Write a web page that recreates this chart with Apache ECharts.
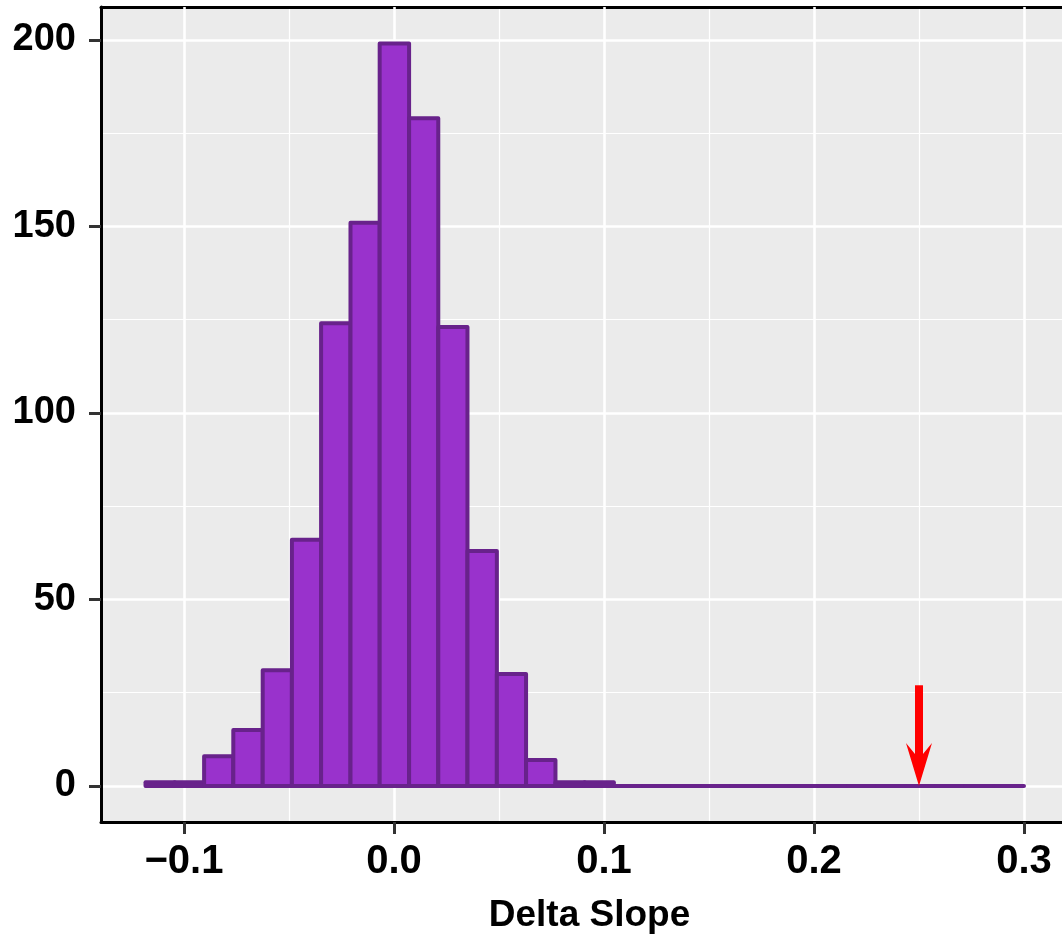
<!DOCTYPE html>
<html>
<head>
<meta charset="utf-8">
<script src="https://cdn.jsdelivr.net/npm/echarts@6/dist/echarts.min.js"></script>
<style>
html,body{margin:0;padding:0;background:#fff;}
#chart{width:1062px;height:942px;}
</style>
</head>
<body>
<div id="chart"></div>
<script>
// Histogram bins (left / right edges) and counts
const binLeft  = [-0.1183,-0.1044,-0.0904,-0.0765,-0.0625,-0.0486,-0.0347,-0.0207,-0.0068,0.0072,0.0211,0.0350,0.0490,0.0629,0.0769,0.0908,0.1047,0.1187,0.1326,0.1466,0.1605,0.1744,0.1884,0.2023,0.2163,0.2302,0.2441,0.2581,0.2720,0.2860];
const binRight = [-0.1044,-0.0904,-0.0765,-0.0625,-0.0486,-0.0347,-0.0207,-0.0068,0.0072,0.0211,0.0350,0.0490,0.0629,0.0769,0.0908,0.1047,0.1187,0.1326,0.1466,0.1605,0.1744,0.1884,0.2023,0.2163,0.2302,0.2441,0.2581,0.2720,0.2860,0.3000];
const counts   = [1,1,8,15,31,66,124,151,199,179,123,63,30,7,1,1,0,0,0,0,0,0,0,0,0,0,0,0,0,0];
// Arrow marking the observed value
const arrowX = 0.25;
const arrowTop = 27;
const arrowBottom = 0;
// Axis ticks and gridlines
const xTicks = [-0.1, 0.0, 0.1, 0.2, 0.3];
const xMinor = [-0.05, 0.05, 0.15, 0.25];
const yTicks = [0, 50, 100, 150, 200];
const yMinor = [25, 75, 125, 175];
const xTitle = 'Delta Slope';

const X_MIN = -0.1395, X_MAX = 0.3181, Y_MIN = -9.65, Y_MAX = 208.8;

const chart = echarts.init(document.getElementById('chart'), null, {renderer: 'canvas'});

const barData = binLeft.map((l, i) => [l, binRight[i], counts[i]]);
const FONT = "'Liberation Sans', Arial, Helvetica, sans-serif";

const option = {
  animation: false,
  grid: {
    left: 101, right: 0, top: 7, bottom: 120,
    show: true, backgroundColor: '#EBEBEB', borderWidth: 0
  },
  xAxis: [
    {
      type: 'value', min: X_MIN, max: X_MAX, position: 'bottom',
      name: xTitle, nameLocation: 'middle', nameGap: 75,
      nameTextStyle: {fontFamily: FONT, fontWeight: 'bold', fontSize: 37, color: '#000', padding: [0, 0, 0, 16]},
      axisLine: {show: true, onZero: false, lineStyle: {color: '#000', width: 3}},
      axisTick: {show: true, length: 12, customValues: xTicks, lineStyle: {color: '#333333', width: 3}},
      axisLabel: {
        show: true, margin: 20, customValues: xTicks,
        fontFamily: FONT, fontWeight: 'bold', fontSize: 40, color: '#000',
        formatter: v => v.toFixed(1).replace('-', '\u2212')
      },
      splitLine: {show: true, lineStyle: {color: '#FFFFFF', width: 2.6}},
      z: 2
    },
    {
      type: 'value', min: X_MIN, max: X_MAX, position: 'top',
      axisLine: {show: true, onZero: false, lineStyle: {color: '#000', width: 3}},
      axisTick: {show: false, customValues: xMinor},
      axisLabel: {show: false, customValues: xMinor},
      splitLine: {show: true, lineStyle: {color: '#FFFFFF', width: 1.2}},
      z: 1
    }
  ],
  yAxis: [
    {
      type: 'value', min: Y_MIN, max: Y_MAX,
      axisLine: {show: true, onZero: false, lineStyle: {color: '#000', width: 3}},
      axisTick: {show: true, length: 12, customValues: yTicks, lineStyle: {color: '#333333', width: 3}},
      axisLabel: {
        show: true, margin: 25, customValues: yTicks,
        fontFamily: FONT, fontWeight: 'bold', fontSize: 38, color: '#000',
        formatter: v => String(Math.round(v))
      },
      splitLine: {show: true, lineStyle: {color: '#FFFFFF', width: 2.6}},
      z: 2
    },
    {
      type: 'value', min: Y_MIN, max: Y_MAX,
      axisLine: {show: false},
      axisTick: {show: false, customValues: yMinor},
      axisLabel: {show: false, customValues: yMinor},
      splitLine: {show: true, lineStyle: {color: '#FFFFFF', width: 1.2}},
      z: 1
    }
  ],
  series: [
    {
      type: 'custom', xAxisIndex: 0, yAxisIndex: 0, z: 5,
      data: barData,
      encode: {x: [0, 1], y: 2},
      renderItem: (params, api) => {
        const p0 = api.coord([api.value(0), api.value(2)]);
        const p1 = api.coord([api.value(1), 0]);
        return {
          type: 'rect',
          shape: {x: p0[0], y: p0[1], width: p1[0] - p0[0], height: p1[1] - p0[1]},
          style: {fill: '#9932CC', stroke: '#68228B', lineWidth: 4, lineJoin: 'round'}
        };
      }
    },
    {
      type: 'custom', xAxisIndex: 0, yAxisIndex: 0, z: 6,
      data: [[arrowX, arrowTop, arrowBottom]],
      encode: {x: 0, y: [1, 2]},
      renderItem: (params, api) => {
        const top = api.coord([api.value(0), api.value(1)]);
        const tip = api.coord([api.value(0), api.value(2)]);
        const x = tip[0], ty = tip[1];
        return {
          type: 'group',
          children: [
            {type: 'rect', shape: {x: x - 4, y: top[1], width: 8, height: ty - 30 - top[1]}, style: {fill: '#FF0000'}},
            {type: 'polygon', shape: {points: [[x, ty], [x + 13, ty - 43], [x + 4, ty - 32], [x - 4, ty - 32], [x - 13, ty - 43]]}, style: {fill: '#FF0000'}}
          ]
        };
      }
    }
  ]
};
chart.setOption(option);
</script>
</body>
</html>
